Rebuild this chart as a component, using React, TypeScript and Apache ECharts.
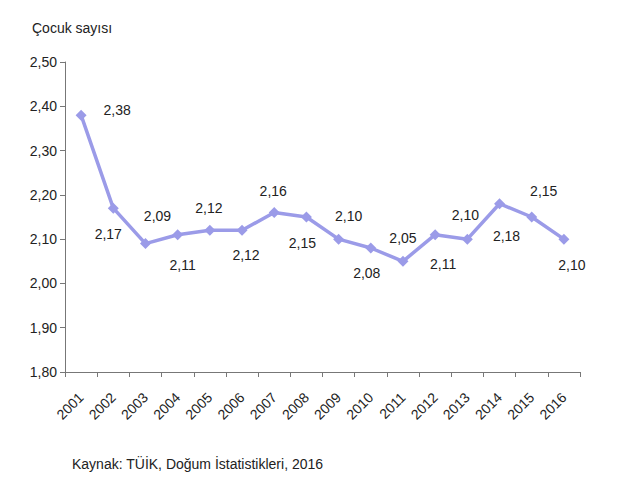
import React, { useEffect, useRef } from "react";
import * as echarts from "echarts";

const years = ["2001","2002","2003","2004","2005","2006","2007","2008","2009","2010","2011","2012","2013","2014","2015","2016"];
const values = [2.38, 2.17, 2.09, 2.11, 2.12, 2.12, 2.16, 2.15, 2.10, 2.08, 2.05, 2.11, 2.10, 2.18, 2.15, 2.10];
const labelOffsets: [number, number][] = [
  [36, -5], [-5, 26], [12, -28], [5, 30], [-1, -22], [4, 25], [-1, -22], [-4, 26],
  [10, -23], [-4, 25], [0, -23], [8, 29], [-2, -24], [7, 32], [12, -26], [8, 26],
];
const yTitle = "Çocuk sayısı";
const sourceNote = "Kaynak: TÜİK, Doğum İstatistikleri, 2016";

const fmt = (v: number) => v.toFixed(2).replace(".", ",");

export default function App() {
  const ref = useRef<HTMLDivElement>(null);
  useEffect(() => {
    document.body.style.margin = "0";
    if (!ref.current) return;
    const chart = echarts.init(ref.current, null, { renderer: "svg" });
    const font = "'Liberation Sans', Arial, sans-serif";
    chart.setOption({
      animation: false,
      backgroundColor: "#ffffff",
      textStyle: { fontFamily: font },
      grid: { left: 65, right: 60, top: 62, bottom: 106, containLabel: false },
      graphic: [
        { type: "text", left: 32, top: 21, style: { text: yTitle, font: `14px ${font}`, fill: "#222" } },
        { type: "text", left: 72, top: 457, style: { text: sourceNote, font: `14px ${font}`, fill: "#222" } },
      ],
      xAxis: {
        type: "category",
        data: years,
        boundaryGap: true,
        axisLine: { lineStyle: { color: "#777", width: 1 } },
        axisTick: { show: true, length: 5, lineStyle: { color: "#777" } },
        axisLabel: { rotate: 45, color: "#222", fontSize: 14, fontFamily: font, margin: 23, interval: 0 },
        splitLine: { show: false },
      },
      yAxis: {
        type: "value",
        min: 1.8,
        max: 2.5,
        interval: 0.1,
        axisLine: { show: true, lineStyle: { color: "#777", width: 1 } },
        axisTick: { show: true, length: 5, lineStyle: { color: "#777" } },
        axisLabel: { color: "#222", fontSize: 14, fontFamily: font, margin: 8, formatter: (v: number) => fmt(v) },
        splitLine: { show: false },
      },
      series: [
        {
          type: "line",
          data: values.map((v, i) => ({
            value: v,
            label: {
              show: true,
              position: "inside",
              offset: labelOffsets[i],
              formatter: () => fmt(v),
              color: "#222",
              fontSize: 14,
              fontFamily: font,
            },
          })),
          symbol: "diamond",
          symbolSize: 11,
          showAllSymbol: true,
          itemStyle: { color: "#9b9be8" },
          lineStyle: { color: "#9b9be8", width: 3.5 },
        },
      ],
    });
    return () => chart.dispose();
  }, []);
  return <div ref={ref} style={{ width: 640, height: 478 }} />;
}
